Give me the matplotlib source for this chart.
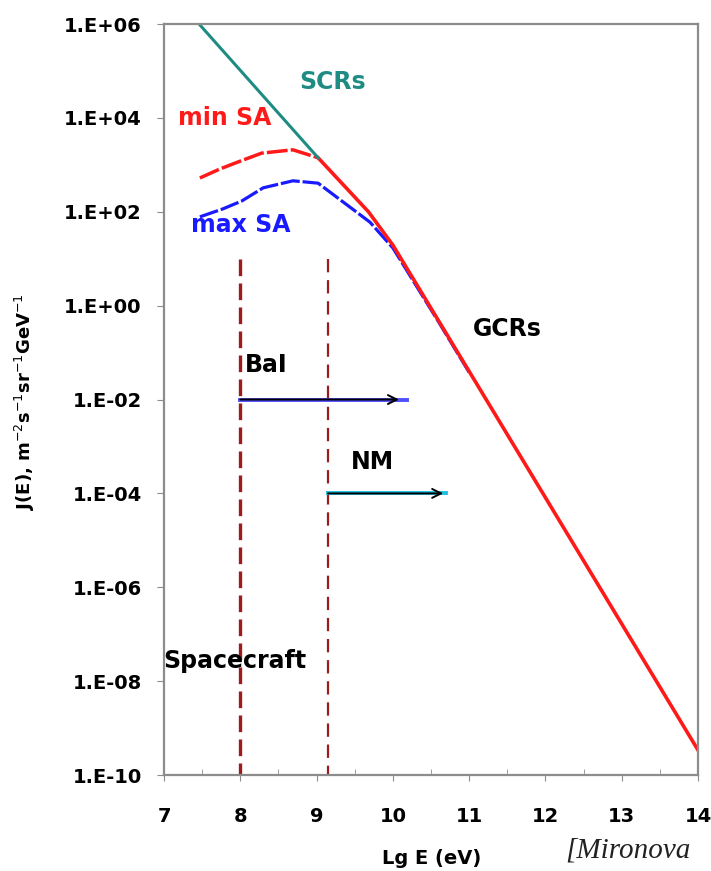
import numpy as np
import matplotlib
matplotlib.use('Agg')
import matplotlib.pyplot as plt

# curves (x = lg E in eV, y = J(E))
scr_x = [7.46, 9.02]
scr_y = [1.0e6, 1413]

min_x = [7.47, 7.73, 8.0, 8.28, 8.69, 9.02, 9.68, 10.0, 14.0]
min_y = [525, 813, 1202, 1778, 2089, 1413, 100, 19.5, 3.4e-10]

max_x = [7.47, 7.77, 8.02, 8.30, 8.69, 9.02, 9.70, 10.0, 10.6, 11.0]
max_y = [78, 115, 170, 324, 457, 407, 60, 17, 0.45, 0.038]

# detector thresholds (vertical dashed lines) and ranges (arrows)
thr_x = [8.0, 9.15]
thr_top = 10.0
bal_range = [8.0, 10.08, 10.18]
bal_y = 1e-2
nm_range = [9.15, 10.66, 10.70]
nm_y = 1e-4

yticks = [1e-10, 1e-8, 1e-6, 1e-4, 1e-2, 1e0, 1e2, 1e4, 1e6]
ytick_labels = ['1.E-10', '1.E-08', '1.E-06', '1.E-04', '1.E-02',
                '1.E+00', '1.E+02', '1.E+04', '1.E+06']
xticks = [7, 8, 9, 10, 11, 12, 13, 14]

teal = '#1e8c82'
red = '#ff1a1a'
blue = '#1a1aff'
darkred = '#9b1c1c'
frame = '#8c8c8c'

plt.rcParams['font.family'] = ['DejaVu Sans']

fig = plt.figure(figsize=(7.11, 8.71), dpi=100)
ax = fig.add_axes([0.2307, 0.1102, 0.751, 0.8622])
ax.set_yscale('log')
ax.set_xlim(7, 14)
ax.set_ylim(1e-10, 1e6)

ax.plot(max_x, max_y, color=blue, lw=2.3, linestyle=(0, (6, 0.9)))
ax.plot(min_x[:6], min_y[:6], color=red, lw=2.5, linestyle=(0, (6, 0.9)))
ax.plot(min_x[5:], min_y[5:], color=red, lw=2.6)
ax.plot(scr_x, scr_y, color=teal, lw=2.2)

ax.plot([thr_x[0], thr_x[0]], [thr_top, 1e-10], color=darkred, lw=2.4,
        linestyle=(0, (5, 2.2)))
ax.plot([thr_x[1], thr_x[1]], [thr_top, 1e-10], color=darkred, lw=1.6,
        linestyle=(0, (6, 3.5)))

# range arrows with coloured underline
ax.plot([bal_range[0], bal_range[2]], [bal_y, bal_y], color='#5050ff', lw=2.8)
ax.annotate('', xy=(bal_range[1], bal_y), xytext=(bal_range[0], bal_y),
            arrowprops=dict(arrowstyle='->', color='black', lw=1.4,
                            mutation_scale=16, shrinkA=0, shrinkB=0))
ax.plot([nm_range[0], nm_range[2]], [nm_y, nm_y], color='#20c0e0', lw=2.8)
ax.annotate('', xy=(nm_range[1], nm_y), xytext=(nm_range[0], nm_y),
            arrowprops=dict(arrowstyle='->', color='black', lw=1.4,
                            mutation_scale=16, shrinkA=0, shrinkB=0))

lab = dict(fontsize=17, fontweight='bold', ha='center', va='center')
ax.text(9.21, 10**4.76, 'SCRs', color=teal, **lab)
ax.text(7.80, 10**4.0, 'min SA', color=red, **lab)
ax.text(8.01, 10**1.72, 'max SA', color=blue, **lab)
ax.text(11.50, 10**-0.50, 'GCRs', color='black', **lab)
ax.text(8.34, 10**-1.26, 'BaI', color='black', **lab)
ax.text(9.73, 10**-3.33, 'NM', color='black', **lab)
ax.text(7.93, 10**-7.58, 'Spacecraft', color='black', **lab)

ax.set_yticks(yticks)
ax.set_yticklabels(ytick_labels)
ax.yaxis.set_minor_locator(matplotlib.ticker.NullLocator())
ax.set_xticks(xticks)
ax.set_xticks(np.arange(7.5, 14, 1.0), minor=True)
ax.tick_params(axis='y', which='major', direction='out', length=5,
               color=frame, pad=11, labelsize=14)
ax.tick_params(axis='x', which='major', direction='out', length=4,
               color=frame, pad=19, labelsize=14)
ax.tick_params(axis='x', which='minor', direction='in', length=4, color=frame)
for t in ax.get_xticklabels() + ax.get_yticklabels():
    t.set_fontweight('bold')

for s in ax.spines.values():
    s.set_color(frame)
    s.set_linewidth(1.6)

ax.set_ylabel(r'J(E), m$^{-2}$s$^{-1}$sr$^{-1}$GeV$^{-1}$', fontsize=13,
              fontweight='bold')
ax.yaxis.set_label_coords(-0.238, 0.497)
ax.set_xlabel('Lg E (eV)', fontsize=14, fontweight='bold')
ax.xaxis.set_label_coords(0.502, -0.098)

fig.text(0.795, 0.016, '[Mironova', fontsize=21, style='italic',
         family='Liberation Serif', color='#222222', va='baseline')

fig.savefig('out.png', dpi=100)
